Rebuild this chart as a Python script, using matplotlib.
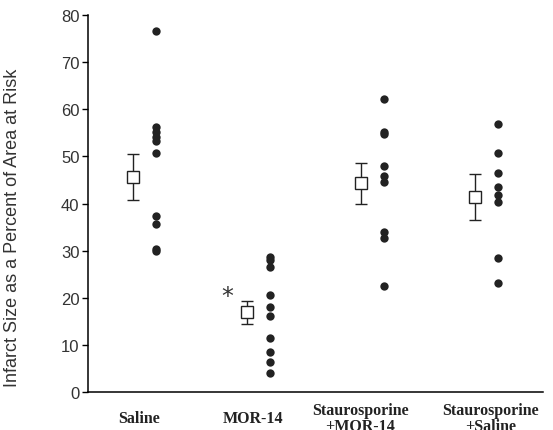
import numpy as np
import matplotlib
matplotlib.use('Agg')
import matplotlib.pyplot as plt
import matplotlib.transforms as mtransforms

# 组别和数据
groups = ['Saline', 'MOR-14', 'Staurosporine\n+MOR-14', 'Staurosporine\n+Saline']
saline = [76.6, 56.3, 55.2, 54.2, 53.3, 50.7, 37.3, 35.7, 30.4, 29.9]
mor14 = [28.6, 28.0, 26.5, 20.5, 18.0, 16.1, 11.4, 8.6, 6.3, 4.0]
stauro_mor = [62.2, 55.2, 54.7, 47.9, 45.9, 44.5, 34.0, 32.6, 22.4]
stauro_sal = [56.8, 50.7, 46.4, 43.6, 41.7, 40.3, 28.5, 23.1]
means = [45.6, 16.9, 44.3, 41.4]
sems = [4.8, 2.5, 4.3, 4.9]

all_points = [saline, mor14, stauro_mor, stauro_sal]

fig = plt.figure(figsize=(5.53, 4.31), dpi=100)
ax = fig.add_axes([0.159, 0.088, 0.823, 0.875])

x = np.arange(1, len(groups) + 1)
off = 0.1

# 单个数据点
for xi, pts in zip(x, all_points):
    ax.plot([xi + off] * len(pts), pts, 'o', color='#222222', markersize=6.0,
            markeredgewidth=0, zorder=3)

# 均值 ± SEM
ax.errorbar(x - off, means, yerr=sems, fmt='s', color='#222222', mfc='white',
            mec='#222222', markersize=9, mew=1.0, capsize=4, elinewidth=1.0,
            capthick=1.0, zorder=3)

ax.text(x[1] - 0.28, 20.3, '*', fontsize=17, ha='center', va='center', color='#333333')

ax.set_xlim(0.5, 4.5)
ax.set_ylim(0, 80)
ax.set_yticks(range(0, 81, 10))
ax.spines['top'].set_visible(False)
ax.spines['right'].set_visible(False)
ax.spines['left'].set_linewidth(1.1)
ax.spines['bottom'].set_linewidth(1.1)

ax.set_xticks(x)
ax.set_xticklabels(groups, family='Liberation Serif', fontweight='bold',
                   fontsize=11.5, va='center', color='#222222', linespacing=1.0)
ax.tick_params(axis='x', length=0, pad=19)
ax.tick_params(axis='y', length=4.5, width=1.0, pad=1.5, labelsize=12,
               labelcolor='#333333')
for lab in ax.get_yticklabels():
    lab.set_family('Liberation Sans')

# 标签水平位置微调 (像素)
shifts = [-6, -6, -12, 4]
for lab, dx in zip(ax.get_xticklabels(), shifts):
    lab.set_transform(lab.get_transform() +
                      mtransforms.ScaledTranslation(dx / 100, 0, fig.dpi_scale_trans))

ax.set_ylabel('Infarct Size as a Percent of Area at Risk', family='Liberation Sans',
              fontsize=13, color='#333333')
ax.yaxis.set_label_coords(-0.147, 0.439)

fig.savefig('out.png', dpi=100)
